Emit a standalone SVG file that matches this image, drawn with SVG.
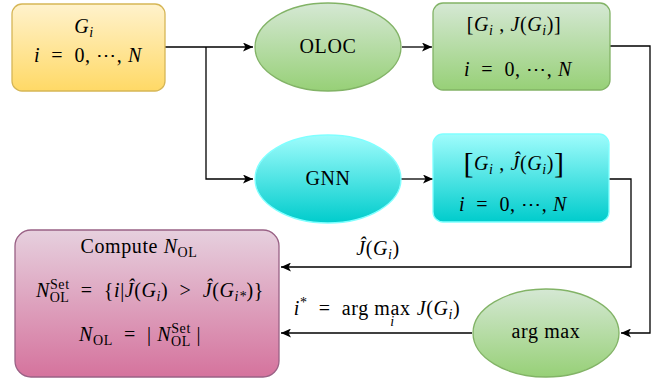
<svg xmlns="http://www.w3.org/2000/svg" width="657" height="383" viewBox="0 0 657 383">
<defs>
<linearGradient id="gy" x1="0" y1="0" x2="0" y2="1"><stop offset="0" stop-color="#fff2cc"/><stop offset="1" stop-color="#ffd966"/></linearGradient>
<linearGradient id="gg" x1="0" y1="0" x2="0" y2="1"><stop offset="0" stop-color="#d5e8d4"/><stop offset="1" stop-color="#97d077"/></linearGradient>
<linearGradient id="gc" x1="0" y1="0" x2="0" y2="1"><stop offset="0" stop-color="#9ffcfc"/><stop offset="1" stop-color="#00cccc"/></linearGradient>
<linearGradient id="gp" x1="0" y1="0" x2="0" y2="1"><stop offset="0" stop-color="#e6d0de"/><stop offset="1" stop-color="#d5739d"/></linearGradient>
<marker id="ah" markerUnits="userSpaceOnUse" markerWidth="11" markerHeight="9" refX="10" refY="4.5" orient="auto"><path d="M0,0 L10,4.5 L0,9 L2.5,4.5 Z" fill="#000"/></marker>
</defs>
<style>
.m{font-family:"Liberation Serif","DejaVu Serif",serif;font-size:20px;letter-spacing:0.6px;fill:#000;white-space:pre}
.it{font-style:italic}
.s{font-size:14px}
.c{stroke:#000;stroke-width:1.3;fill:none;marker-end:url(#ah)}
</style>
<g id="connectors">
<path class="c" d="M165,47 H253"/>
<path class="c" d="M206,47 V179 H253"/>
<path class="c" d="M402,47 H432"/>
<path class="c" d="M401,179 H433"/>
<path class="c" d="M610,46 H650 V333 H621"/>
<path class="c" d="M609,179 H631 V267 H281"/>
<path class="c" d="M472,333 H281"/>
<text class="m" x="378" y="255" text-anchor="middle"><tspan class="it">Ĵ</tspan>(<tspan class="it">G</tspan><tspan class="s it" dy="4">i</tspan><tspan dy="-4">)</tspan></text>
<text class="m" x="377" y="315" text-anchor="middle"><tspan class="it">i</tspan><tspan class="s" dy="-8">*</tspan><tspan dy="8">  =  arg max</tspan><tspan class="s it" dx="-20.4" dy="11">i</tspan><tspan dx="22" dy="-11" class="it">J</tspan>(<tspan class="it">G</tspan><tspan class="s it" dy="4">i</tspan><tspan dy="-4">)</tspan></text>
</g>
<g id="input">
<rect x="12" y="4" width="153" height="87" rx="10" fill="url(#gy)" stroke="#d6b656" stroke-width="1.3"/>
<text class="m" x="84" y="33" text-anchor="middle"><tspan class="it">G</tspan><tspan class="s it" dy="4">i</tspan></text>
<text class="m" x="88" y="62" text-anchor="middle"><tspan class="it">i</tspan>  =  0, ⋯, <tspan class="it">N</tspan></text>
</g>
<g id="oloc">
<ellipse cx="328" cy="47" rx="73" ry="44" fill="url(#gg)" stroke="#82b366" stroke-width="1.3"/>
<text class="m" x="328" y="53" text-anchor="middle">OLOC</text>
</g>
<g id="oloc-out">
<rect x="433" y="3" width="177" height="87" rx="10" fill="url(#gg)" stroke="#82b366" stroke-width="1.3"/>
<text class="m" x="514" y="31" text-anchor="middle">[<tspan class="it">G</tspan><tspan class="s it" dy="4">i</tspan><tspan dy="-4"> , </tspan><tspan class="it">J</tspan>(<tspan class="it">G</tspan><tspan class="s it" dy="4">i</tspan><tspan dy="-4">)]</tspan></text>
<text class="m" x="518" y="76" text-anchor="middle"><tspan class="it">i</tspan>  =  0, ⋯, <tspan class="it">N</tspan></text>
</g>
<g id="gnn">
<ellipse cx="328" cy="179" rx="73" ry="44" fill="url(#gc)" stroke="#80ffff" stroke-width="1.3"/>
<text class="m" x="328" y="185" text-anchor="middle">GNN</text>
</g>
<g id="gnn-out">
<rect x="433" y="134" width="176" height="88" rx="10" fill="url(#gc)" stroke="#80ffff" stroke-width="1.3"/>
<text class="m" x="514" y="170" text-anchor="middle"><tspan font-size="30" dy="3">[</tspan><tspan dy="-3" class="it">G</tspan><tspan class="s it" dy="4">i</tspan><tspan dy="-4"> , </tspan><tspan class="it">Ĵ</tspan>(<tspan class="it">G</tspan><tspan class="s it" dy="4">i</tspan><tspan dy="-4">)</tspan><tspan font-size="30" dy="3">]</tspan></text>
<text class="m" x="513" y="211" text-anchor="middle"><tspan class="it">i</tspan>  =  0, ⋯, <tspan class="it">N</tspan></text>
</g>
<g id="compute">
<rect x="15" y="230" width="264" height="147" rx="16" fill="url(#gp)" stroke="#996185" stroke-width="1.3"/>
<text class="m" x="139" y="253" text-anchor="middle">Compute <tspan class="it">N</tspan><tspan class="s" dy="4">OL</tspan></text>
<text class="m" x="150" y="297" text-anchor="middle"><tspan class="it">N</tspan><tspan class="s" dy="-8">Set</tspan><tspan class="s" dx="-20" dy="13">OL</tspan><tspan dy="-5">  =  {</tspan><tspan class="it">i</tspan>|<tspan class="it">Ĵ</tspan>(<tspan class="it">G</tspan><tspan class="s it" dy="4">i</tspan><tspan dy="-4">)  &gt;  </tspan><tspan class="it">Ĵ</tspan>(<tspan class="it">G</tspan><tspan class="s it" dy="4">i*</tspan><tspan dy="-4">)}</tspan></text>
<text class="m" x="140" y="341" text-anchor="middle"><tspan class="it">N</tspan><tspan class="s" dy="4">OL</tspan><tspan dy="-4">  =  | </tspan><tspan class="it">N</tspan><tspan class="s" dy="-8">Set</tspan><tspan class="s" dx="-20" dy="13">OL</tspan><tspan dy="-5"> |</tspan></text>
</g>
<g id="argmax">
<ellipse cx="546" cy="333" rx="73" ry="44" fill="url(#gg)" stroke="#82b366" stroke-width="1.3"/>
<text class="m" x="546" y="338" text-anchor="middle">arg max</text>
</g>
</svg>
